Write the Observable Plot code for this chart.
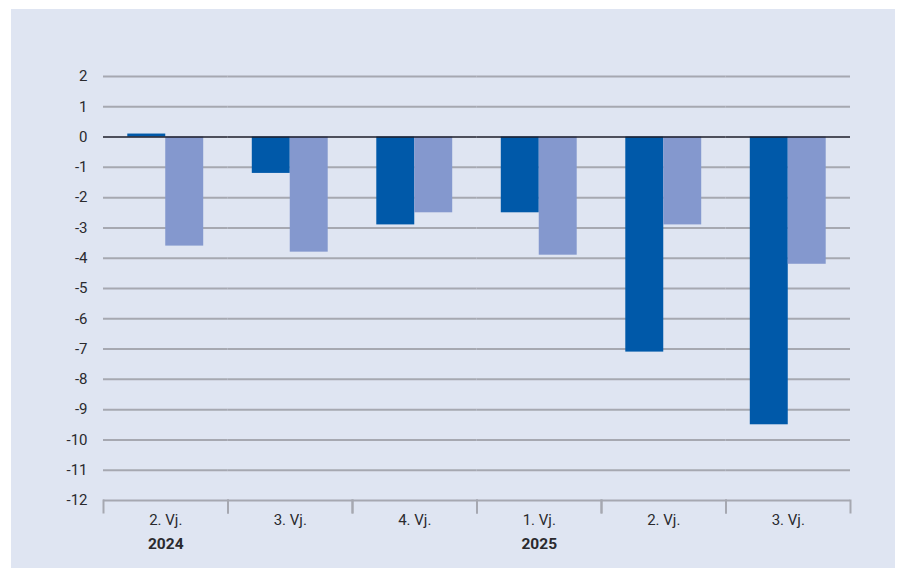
<!DOCTYPE html>
<html><head><meta charset="utf-8">
<script src="https://cdn.jsdelivr.net/npm/d3@7"></script>
<script src="https://cdn.jsdelivr.net/npm/@observablehq/plot@0.6"></script>
<style>
html,body{margin:0;padding:0;background:#fff;}
#wrap{position:relative;width:898px;height:568px;overflow:hidden;}
#panel{position:absolute;left:11px;top:9px;width:884px;height:559px;background:#dfe5f2;}
#chart{position:absolute;left:0;top:0;}
</style></head><body>
<div id="wrap"><div id="panel"></div><div id="chart"></div></div>
<script>
const quarters = ["2. Vj.", "3. Vj.", "4. Vj.", "1. Vj.", "2. Vj.", "3. Vj."];
const years = ["2024", "2024", "2024", "2025", "2025", "2025"];
const seriesNames = ["Serie 1", "Serie 2"];
const series1 = [0.1, -1.2, -2.9, -2.5, -7.1, -9.5];
const series2 = [-3.6, -3.8, -2.5, -3.9, -2.9, -4.2];
const yTicks = [2, 1, 0, -1, -2, -3, -4, -5, -6, -7, -8, -9, -10, -11, -12];
const yearLabels = ["2024", "2025"];

const keys = quarters.map((q, i) => years[i] + " " + q);
const labelOf = new Map(keys.map((k, i) => [k, quarters[i]]));
const rows = keys.flatMap((k, i) => [
  {key: k, series: seriesNames[0], value: series1[i]},
  {key: k, series: seriesNames[1], value: series2[i]}
]);
const yearRows = yearLabels.map(y => ({key: keys[years.indexOf(y)], year: y}));

const grid = "#a6a8b1";
const chart = Plot.plot({
  width: 898, height: 568,
  marginLeft: 103, marginRight: 48, marginTop: 76, marginBottom: 68,
  style: {background: "transparent", fontFamily: "Roboto, sans-serif", fontSize: "15px", color: "#2a2a2e", overflow: "visible"},
  fx: {domain: keys, padding: 0, round: false, tickSize: 0, tickPadding: 14, label: null, tickFormat: k => labelOf.get(k)},
  x: {domain: seriesNames, paddingInner: 0, paddingOuter: 0.64, round: false, axis: null},
  y: {domain: [-12, 2], ticks: yTicks, tickSize: 0, tickPadding: 16, label: null, tickFormat: d => String(d)},
  color: {domain: seriesNames, range: ["#0059a9", "#8498ce"]},
  marks: [
    Plot.ruleY(yTicks.filter(d => d !== 0), {y: d => d, stroke: grid, strokeWidth: 2, strokeOpacity: 1}),
    Plot.barY(rows, {fx: "key", x: "series", y: "value", fill: "series"}),
    Plot.ruleY([0], {stroke: "#1c1c28", strokeWidth: 1.6}),
    Plot.frame({anchor: "left", stroke: grid, strokeWidth: 2, strokeOpacity: 1, insetTop: 424, insetBottom: -12}),
    Plot.frame({anchor: "right", stroke: grid, strokeWidth: 2, strokeOpacity: 1, insetTop: 424, insetBottom: -12}),
    Plot.text(yearRows, {fx: "key", text: "year", frameAnchor: "bottom", dy: 48, fontWeight: "bold", fontSize: 15.5})
  ]
});
document.getElementById("chart").appendChild(chart);
</script>
</body></html>
